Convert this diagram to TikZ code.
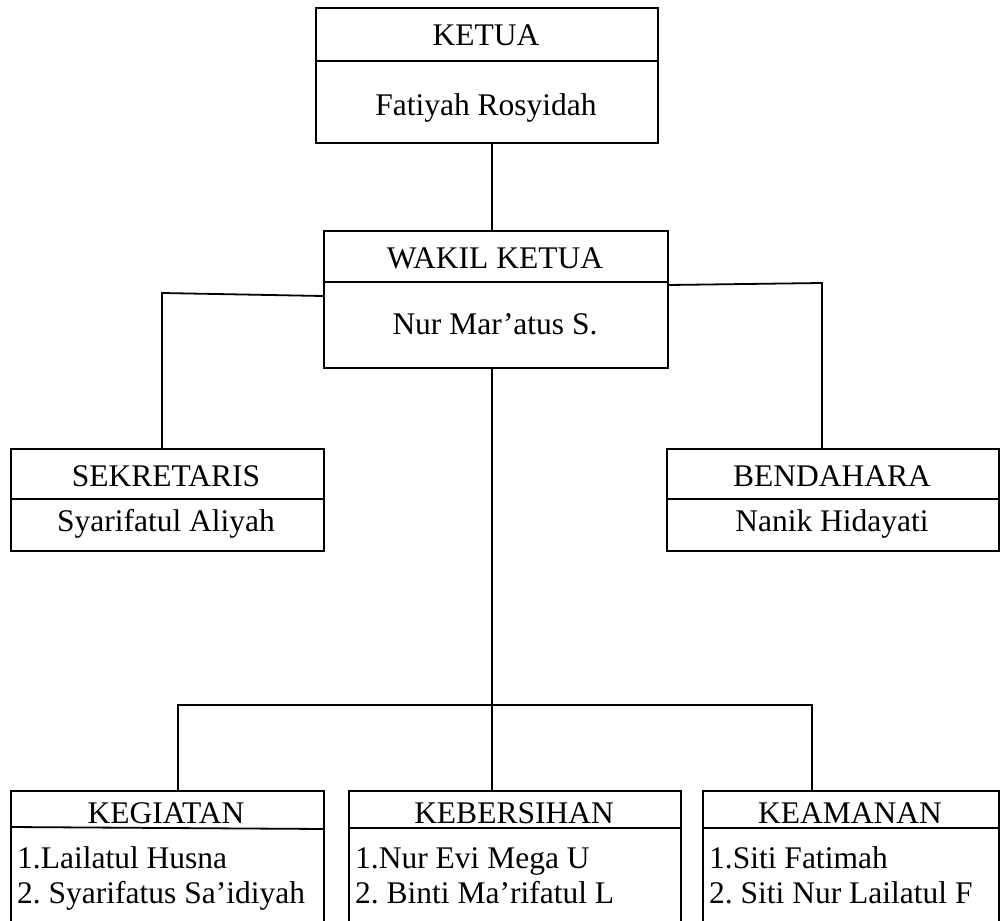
\documentclass[tikz,border=0pt]{standalone}
\usepackage{fontspec}
\setmainfont{Liberation Serif}
\frenchspacing
\begin{document}
\begin{tikzpicture}[x=1pt,y=-1pt,
  box/.style={draw, line width=1.8pt, inner sep=0pt, anchor=north west},
  lbl/.style={font=\fontsize{31.5}{36}\selectfont, inner sep=0pt, anchor=base},
  item/.style={font=\fontsize{31.5}{36}\selectfont, inner sep=0pt, anchor=base west},
  conn/.style={line width=1.8pt}]
\useasboundingbox (0,0) rectangle (1000,920);
\clip (0,0) rectangle (1000,920);
% boxes
\node[box, minimum width=342pt, minimum height=135pt] (ketua) at (315,7) {};
\node[box, minimum width=344pt, minimum height=137pt] (wakil) at (323,230) {};
\node[box, minimum width=313pt, minimum height=102pt] (sek) at (10,448) {};
\node[box, minimum width=332pt, minimum height=102pt] (bend) at (666,448) {};
\node[box, minimum width=313pt, minimum height=200pt] (keg) at (10,790) {};
\node[box, minimum width=332pt, minimum height=200pt] (keb) at (348,790) {};
\node[box, minimum width=296pt, minimum height=200pt] (keam) at (702,790) {};
% dividers
\draw[conn] ([yshift=-54pt]ketua.north west) -- ([yshift=-54pt]ketua.north east);
\draw[conn] ([yshift=-52pt]wakil.north west) -- ([yshift=-52pt]wakil.north east);
\draw[conn] ([yshift=-51pt]sek.north west) -- ([yshift=-51pt]sek.north east);
\draw[conn] ([yshift=-51pt]bend.north west) -- ([yshift=-51pt]bend.north east);
\draw[conn] ([yshift=-37pt]keg.north west) -- ([yshift=-39pt]keg.north east);
\draw[conn] ([yshift=-38pt]keb.north west) -- ([yshift=-38pt]keb.north east);
\draw[conn] ([yshift=-38pt]keam.north west) -- ([yshift=-38pt]keam.north east);
% texts
\node[lbl] (tk1) at (486,46) {KETUA};
\node[lbl] (tk2) at (486,116) {Fatiyah Rosyidah};
\node[lbl] (tw1) at (495,268) {WAKIL KETUA};
\node[lbl] (tw2) at (495,334) {Nur Mar’atus S.};
\node[lbl] (ts1) at (166,486) {SEKRETARIS};
\node[lbl] (ts2) at (166,531) {Syarifatul Aliyah};
\node[lbl] (tb1) at (832,486) {BENDAHARA};
\node[lbl] (tb2) at (832,531) {Nanik Hidayati};
\node[lbl] (tg1) at (166,823) {KEGIATAN};
\node[lbl] (te1) at (514,823) {KEBERSIHAN};
\node[lbl] (ta1) at (850,823) {KEAMANAN};
\node[item] (tg2) at (17,868) {1.Lailatul Husna};
\node[item] (tg3) at (17,903) {2. Syarifatus Sa’idiyah};
\node[item] (te2) at (355,868) {1.Nur Evi Mega U};
\node[item] (te3) at (355,903) {2. Binti Ma’rifatul L};
\node[item] (ta2) at (709,868) {1.Siti Fatimah};
\node[item] (ta3) at (709,903) {2. Siti Nur Lailatul F};
% connectors
\coordinate (spine) at (492,0);
\coordinate (jl) at (162,293);
\coordinate (jr) at (822,283);
\coordinate (bl) at (178,705);
\coordinate (br) at (812,705);
\draw[conn] (spine |- ketua.south) -- (spine |- wakil.north);
\draw[conn] ([yshift=-66pt]wakil.north west) -- (jl) -- (jl |- sek.north);
\draw[conn] ([yshift=-55pt]wakil.north east) -- (jr) -- (jr |- bend.north);
\draw[conn] (spine |- wakil.south) -- (spine |- keb.north);
\draw[conn] (bl |- keg.north) -- (bl) -- (br) -- (br |- keam.north);
\end{tikzpicture}
\end{document}
